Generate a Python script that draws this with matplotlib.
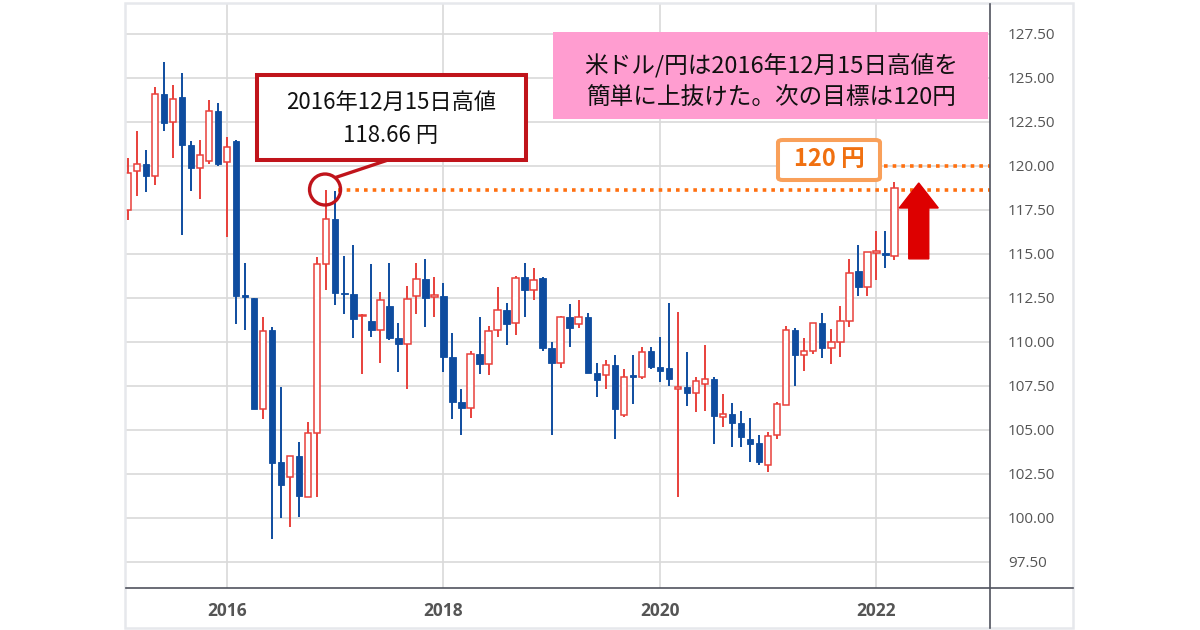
import numpy as np
import pandas as pd
import matplotlib
matplotlib.use("Agg")
import matplotlib.pyplot as plt
import matplotlib.patches as mpatches
from matplotlib.lines import Line2D

plt.rcParams['font.family'] = ['Noto Sans CJK JP', 'DejaVu Sans']

# monthly USD/JPY candles, Feb 2015 .. Mar 2022
months = pd.period_range("2015-02", "2022-03", freq="M")
opens = [117.5, 119.7, 120.1, 119.4, 124.1, 122.5, 123.9, 121.2, 119.9, 120.3, 123.1,
         120.2, 121.4, 112.65, 112.5, 106.2, 110.7, 103.2, 102.3, 103.5, 101.2, 104.8, 114.4,
         117.0, 112.75, 112.7, 111.45, 111.2, 110.7, 112.05, 110.2, 109.9, 112.6, 113.6, 112.55,
         112.6, 109.15, 106.6, 106.25, 109.3, 108.75, 110.7, 111.8, 111.1, 113.7, 112.95, 113.65,
         109.68, 108.82, 111.4, 111.0, 111.4, 108.25, 108.15, 108.7, 105.85, 108.05, 108.0, 109.5,
         108.6, 108.5, 107.35, 107.46, 107.1, 107.6, 107.9, 105.75, 105.9, 105.4, 104.5, 104.25,
         103.0, 104.7, 106.4, 110.7, 109.26, 109.5, 111.1, 109.66, 110.0, 111.2, 114.03, 113.14,
         115.05, 115.05, 114.9]
highs = [120.45, 122.0, 120.9, 124.5, 125.9, 124.6, 125.3, 121.4, 121.5, 123.75, 123.6,
         121.66, 121.5, 114.5, 112.5, 111.4, 110.85, 107.45, 103.5, 104.3, 105.45, 114.8, 118.66,
         118.6, 114.9, 115.5, 111.6, 114.4, 112.85, 114.5, 111.1, 113.2, 114.5, 114.7, 113.7,
         113.35, 110.5, 107.3, 109.5, 111.4, 110.9, 113.1, 112.2, 113.75, 114.5, 114.2, 113.7,
         110.0, 111.5, 112.15, 112.4, 111.66, 108.8, 109.0, 109.25, 108.46, 109.25, 109.7, 109.7,
         110.3, 112.2, 111.7, 109.4, 108.0, 109.8, 108.0, 107.05, 106.55, 106.1, 105.7, 104.7,
         104.9, 106.6, 110.9, 110.8, 110.2, 111.1, 111.66, 110.74, 112.06, 114.7, 115.5, 115.1,
         116.3, 116.3, 119.1]
lows = [116.9, 118.3, 118.5, 118.9, 122.0, 120.45, 116.1, 118.6, 118.1, 120.1, 120.0,
        115.98, 111.0, 110.7, 106.2, 105.6, 98.8, 100.0, 99.5, 100.05, 101.2, 101.2, 112.95,
        112.1, 111.6, 110.2, 108.2, 110.3, 108.8, 110.1, 108.3, 107.3, 111.6, 110.85, 111.4,
        108.3, 105.6, 104.7, 105.7, 108.2, 108.1, 110.3, 109.8, 110.4, 111.4, 112.4, 109.5,
        104.7, 108.5, 109.7, 110.8, 108.25, 106.9, 107.3, 104.5, 105.75, 106.5, 107.9, 108.45,
        107.7, 107.5, 101.2, 106.36, 106.0, 106.1, 104.2, 105.17, 104.05, 104.05, 103.2, 103.0,
        102.6, 104.5, 106.4, 107.5, 108.35, 109.3, 109.1, 108.75, 109.16, 110.87, 112.6, 112.6,
        113.5, 114.2, 114.66]
closes = [119.6, 120.1, 119.4, 124.1, 122.45, 123.8, 121.2, 119.9, 120.6, 123.1, 120.1,
          121.1, 112.6, 112.55, 106.2, 110.6, 103.1, 101.9, 103.5, 101.25, 104.8, 114.4, 117.0,
          112.8, 112.7, 111.3, 111.55, 110.7, 112.4, 110.2, 109.9, 112.45, 113.6, 112.5, 112.65,
          109.15, 106.6, 106.25, 109.3, 108.75, 110.6, 111.8, 111.0, 113.65, 112.95, 113.5, 109.65,
          108.82, 111.44, 110.8, 111.4, 108.25, 107.84, 108.7, 106.2, 108.0, 108.0, 109.45, 108.6,
          108.35, 107.9, 107.45, 107.1, 107.8, 107.9, 105.8, 105.9, 105.4, 104.6, 104.2, 103.2,
          104.65, 106.5, 110.7, 109.26, 109.5, 111.1, 109.66, 110.0, 111.2, 113.94, 113.14, 115.1,
          115.1, 114.94, 118.77]

year_ticks = [2016, 2018, 2020, 2022]
price_ticks = [97.5, 100.0, 102.5, 105.0, 107.5, 110.0, 112.5, 115.0, 117.5, 120.0, 122.5, 125.0, 127.5]

high_2016 = 118.66
target = 120.0

up_col = '#e8403b'
down_col = '#0e4c9f'

W, H = 1200, 630


def fx(x):
    return x / W


def fy(y):
    return 1 - y / H


fig = plt.figure(figsize=(12, 6.3), dpi=100)
ax = fig.add_axes([fx(126), fy(588), (990 - 126) / W, (588 - 4) / H])

# month index with Jan 2016 = 0
xs = np.array([(p.year - 2016) * 12 + p.month - 1 for p in months])
o = np.array(opens)
h = np.array(highs)
l = np.array(lows)
c = np.array(closes)
up = c >= o

ax.vlines(xs[up], l[up], h[up], color=up_col, lw=1.4, zorder=3)
ax.vlines(xs[~up], l[~up], h[~up], color=down_col, lw=1.4, zorder=3)
bottom = np.minimum(o, c)
height = np.maximum(np.abs(c - o), 0.1)
ax.bar(xs[up], height[up], 0.72, bottom[up], facecolor='white', edgecolor=up_col,
       linewidth=1.1, zorder=4)
ax.bar(xs[~up], height[~up], 0.72, bottom[~up], facecolor=down_col, edgecolor=down_col,
       linewidth=0.6, zorder=4)

# dotted levels
ax.plot([12.3, 84.6], [high_2016, high_2016], color='#ff7010', lw=2.6,
        linestyle=(0, (1, 1.4)), zorder=2)
ax.plot([72.8, 84.6], [target, target], color='#ff7010', lw=2.6,
        linestyle=(0, (1, 1.4)), zorder=2)

# circle on the Dec 2016 high
ax.add_patch(mpatches.Ellipse((10.87, high_2016), 3.44, 1.76, fill=False,
                              edgecolor='#c0141b', lw=2.4, zorder=6))

# red arrow
ax.add_patch(mpatches.FancyArrow(76.7, 114.72, 0, 4.31, width=2.22, head_width=4.33,
                                 head_length=1.42, length_includes_head=True,
                                 color='#dd0000', zorder=6))

ax.set_xlim(-11.2, 84.6)
ax.set_ylim(96.02, 129.2)

xt = [(y - 2016) * 12 for y in year_ticks]
ax.set_xticks(xt)
ax.set_xticklabels([str(y) for y in year_ticks], fontweight='bold', family='Open Sans')
ax.set_yticks(price_ticks)
ax.set_yticklabels(['%.2f' % v for v in price_ticks], family='Open Sans')
ax.yaxis.tick_right()
ax.tick_params(axis='x', length=0, pad=10, labelsize=12.5, labelcolor='#555555')
ax.tick_params(axis='y', length=0, pad=13, labelsize=11, labelcolor='#555555')
ax.grid(True, color='#d9d9d9', lw=1.2, zorder=0)
ax.set_axisbelow(True)
for s in ax.spines.values():
    s.set_visible(False)

# outer frame and axis lines
fig.patches.append(mpatches.Rectangle((fx(125), fy(628)), (1073 - 125) / W, (628 - 3) / H,
                                      transform=fig.transFigure, fill=False,
                                      edgecolor='#e6e8ec', lw=1.8, zorder=0))
fig.lines.append(Line2D([fx(126), fx(1073)], [fy(588), fy(588)], transform=fig.transFigure,
                        color='#50535e', lw=1.2))
fig.lines.append(Line2D([fx(990), fx(990)], [fy(4), fy(628)], transform=fig.transFigure,
                        color='#50535e', lw=1.2))

# pink comment box
fig.patches.append(mpatches.Rectangle((fx(553), fy(119)), (988 - 553) / W, (119 - 32) / H,
                                      transform=fig.transFigure, facecolor='#ff9dd0',
                                      edgecolor='none', zorder=2))
fig.text(fx(771), fy(66), '米ドル/円は2016年12月15日高値を', ha='center', va='center',
         fontsize=17, color='#111111', zorder=5)
fig.text(fx(771), fy(97), '簡単に上抜けた。次の目標は120円', ha='center', va='center',
         fontsize=17, color='#111111', zorder=5)

# red callout
fig.patches.append(mpatches.Rectangle((fx(257), fy(160)), (526 - 257) / W, (160 - 75) / H,
                                      transform=fig.transFigure, facecolor='white',
                                      edgecolor='#c0141b', lw=2.9, zorder=2))
fig.lines.append(Line2D([fx(385), fx(337)], [fy(161), fy(177)], transform=fig.transFigure,
                        color='#c0141b', lw=2.4))
fig.text(fx(391), fy(102), '2016年12月15日高値', ha='center', va='center',
         fontsize=16, color='#111111', zorder=5)
fig.text(fx(391), fy(136), '%.2f 円' % high_2016, ha='center', va='center',
         fontsize=16, color='#111111', zorder=5)

# orange target box
fig.patches.append(mpatches.FancyBboxPatch((fx(778), fy(180)), (880 - 778) / W, (180 - 140) / H,
                                           boxstyle='round,pad=0,rounding_size=0.004',
                                           transform=fig.transFigure, facecolor='white',
                                           edgecolor='#f9a05a', lw=2.9, zorder=2))
fig.text(fx(829), fy(159), '%d 円' % target, ha='center', va='center',
         fontsize=17, fontweight='bold', color='#f07010', zorder=5)

fig.savefig('out.png', dpi=100, facecolor='white')
